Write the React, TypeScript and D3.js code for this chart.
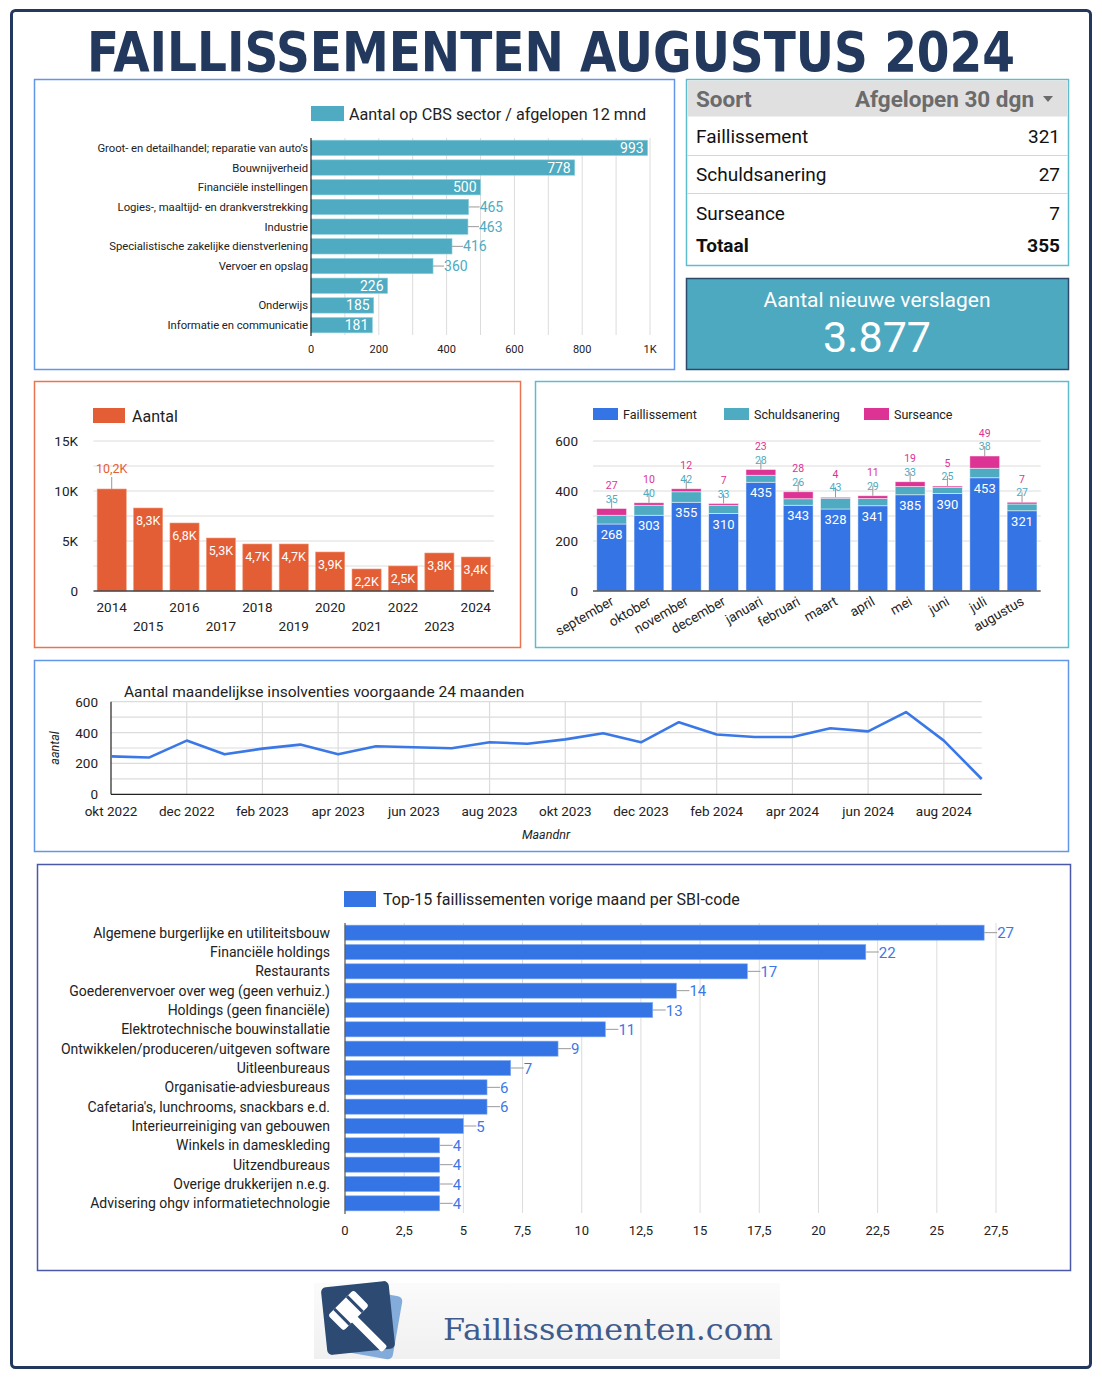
import React from 'react';
import * as d3 from 'd3';

const W = 1102;
const H = 1382;

// ---------- DATA ----------
const sectorNames = [
  'Groot- en detailhandel; reparatie van auto’s',
  'Bouwnijverheid',
  'Financiële instellingen',
  'Logies-, maaltijd- en drankverstrekking',
  'Industrie',
  'Specialistische zakelijke dienstverlening',
  'Vervoer en opslag',
  '',
  'Onderwijs',
  'Informatie en communicatie',
];
const sectorValues = [993, 778, 500, 465, 463, 416, 360, 226, 185, 181];
const sectorLabelInside = [true, true, true, false, false, false, false, true, true, true];
const sectorTicks = [0, 200, 400, 600, 800, 1000];

const tableLabels = ['Faillissement', 'Schuldsanering', 'Surseance'];
const tableValues = [321, 27, 7];
const kpiValue = 3877;

const years = ['2014', '2015', '2016', '2017', '2018', '2019', '2020', '2021', '2022', '2023', '2024'];
const yearValues = [10200, 8300, 6800, 5300, 4700, 4700, 3900, 2200, 2500, 3800, 3400];
const yearTicks = [0, 5000, 10000, 15000];

const months = ['september', 'oktober', 'november', 'december', 'januari', 'februari', 'maart', 'april', 'mei', 'juni', 'juli', 'augustus'];
const faillissement = [268, 303, 355, 310, 435, 343, 328, 341, 385, 390, 453, 321];
const schuldsanering = [35, 40, 42, 33, 28, 26, 43, 29, 33, 25, 38, 27];
const surseance = [27, 10, 12, 7, 23, 28, 4, 11, 19, 5, 49, 7];
const monthTicks = [0, 200, 400, 600];

const lineValues = [246, 238, 348, 259, 296, 322, 259, 311, 305, 298, 337, 328, 356, 395, 337, 467, 387, 371, 371, 428, 408, 533, 348, 99];
const lineTickLabels = ['okt 2022', 'dec 2022', 'feb 2023', 'apr 2023', 'jun 2023', 'aug 2023', 'okt 2023', 'dec 2023', 'feb 2024', 'apr 2024', 'jun 2024', 'aug 2024'];
const lineYTicks = [0, 200, 400, 600];

const sbiNames = [
  'Algemene burgerlijke en utiliteitsbouw',
  'Financiële holdings',
  'Restaurants',
  'Goederenvervoer over weg (geen verhuiz.)',
  'Holdings (geen financiële)',
  'Elektrotechnische bouwinstallatie',
  'Ontwikkelen/produceren/uitgeven software',
  'Uitleenbureaus',
  'Organisatie-adviesbureaus',
  "Cafetaria's, lunchrooms, snackbars e.d.",
  'Interieurreiniging van gebouwen',
  'Winkels in dameskleding',
  'Uitzendbureaus',
  'Overige drukkerijen n.e.g.',
  'Advisering ohgv informatietechnologie',
];
const sbiValues = [27, 22, 17, 14, 13, 11, 9, 7, 6, 6, 5, 4, 4, 4, 4];
const sbiTicks = [0, 2.5, 5, 7.5, 10, 12.5, 15, 17.5, 20, 22.5, 25, 27.5];

// ---------- STYLE ----------
const FONT = 'Roboto, "Noto Sans", sans-serif';
const TEAL = '#4eabc1';
const ORANGE = '#e35e35';
const BLUE = '#3474e4';
const PINK = '#dd3394';
const GRID = '#dcdcdc';
const NAVY = '#22385d';

const nlNum = (v: number) => String(v).replace('.', ',');
const fmtK = (v: number) => (v === 0 ? '0' : nlNum(+(v / 1000).toFixed(1)) + 'K');
const fmtThousands = d3.formatLocale({ decimal: ',', thousands: '.', grouping: [3], currency: ['€', ''] }).format(',d');

function SectorChart() {
  const x = d3.scaleLinear().domain([0, 1000]).range([311, 650]);
  const y = d3.scaleBand<number>().domain(d3.range(sectorValues.length)).range([138, 335]).paddingInner(0.22).paddingOuter(0.11);
  return (
    <g fontFamily={FONT}>
      <rect x={34.5} y={79.5} width={640} height={290} fill="#fff" stroke="#6396e8" strokeWidth={1.5} />
      <rect x={311} y={106} width={33} height={15} fill={TEAL} />
      <text x={349} y={120} fontSize={16.2} fill="#222">Aantal op CBS sector / afgelopen 12 mnd</text>
      {d3.range(100, 1001, 100).map((t) => (
        <line key={t} x1={x(t)} x2={x(t)} y1={138} y2={335} stroke={GRID} strokeWidth={1} />
      ))}
      {sectorValues.map((v, i) => (
        <rect key={i} x={x(0)} y={y(i)} width={x(v) - x(0)} height={y.bandwidth()} fill={TEAL} stroke="#8fd2df" strokeWidth={0.6} />
      ))}
      <line x1={x(0)} x2={x(0)} y1={138} y2={336} stroke="#222" strokeWidth={1.2} />
      {sectorNames.map((n, i) => (
        <text key={i} x={308} y={(y(i) as number) + y.bandwidth() / 2 + 4} textAnchor="end" fontSize={11.3} letterSpacing={-0.05} fill="#222">{n}</text>
      ))}
      {sectorValues.map((v, i) => {
        const cy = (y(i) as number) + y.bandwidth() / 2 + 5;
        return sectorLabelInside[i] ? (
          <text key={i} x={x(v) - 4} y={cy} textAnchor="end" fontSize={14} fill="#fff">{v}</text>
        ) : (
          <g key={i}>
            <line x1={x(v)} x2={x(v) + 11} y1={cy - 5} y2={cy - 5} stroke="#999" strokeWidth={1} />
            <text x={x(v) + 11} y={cy} fontSize={14} fill={TEAL}>{v}</text>
          </g>
        );
      })}
      {sectorTicks.map((t) => (
        <text key={t} x={x(t)} y={353} textAnchor="middle" fontSize={11} fill="#222">{t === 1000 ? '1K' : t}</text>
      ))}
    </g>
  );
}

function TablePanel() {
  const rowBase = [143, 181, 220];
  const total = d3.sum(tableValues);
  return (
    <g fontFamily={FONT}>
      <rect x={686.5} y={79.5} width={382} height={186} fill="#fff" stroke="#5fbccd" strokeWidth={1.5} />
      <rect x={687.5} y={80.5} width={380} height={36} fill="#e0e0e0" />
      <text x={696} y={107} fontSize={22.5} fontWeight="bold" fill="#6b6b6b">Soort</text>
      <text x={1034} y={107} fontSize={22.5} fontWeight="bold" fill="#6b6b6b" textAnchor="end">Afgelopen 30 dgn</text>
      <path d="M1043,96 L1053,96 L1048,102 Z" fill="#6b6b6b" />
      {tableLabels.map((l, i) => (
        <g key={l}>
          <text x={696} y={rowBase[i]} fontSize={19} fill="#111">{l}</text>
          <text x={1060} y={rowBase[i]} fontSize={19} fill="#111" textAnchor="end">{tableValues[i]}</text>
          {i < 2 && <line x1={687} x2={1068} y1={rowBase[i] + 12.5} y2={rowBase[i] + 12.5} stroke="#d6d6d6" strokeWidth={1.2} />}
        </g>
      ))}
      <text x={696} y={252} fontSize={19} fontWeight="bold" fill="#111">Totaal</text>
      <text x={1060} y={252} fontSize={19} fontWeight="bold" fill="#111" textAnchor="end">{total}</text>

      <rect x={686.5} y={278.5} width={382} height={91} fill="#4da9c0" stroke="#2c4a6b" strokeWidth={1.5} />
      <text x={877} y={307} fontSize={21} fill="#fff" textAnchor="middle">Aantal nieuwe verslagen</text>
      <text x={877} y={352} fontSize={43} fill="#fff" textAnchor="middle">{fmtThousands(kpiValue)}</text>
    </g>
  );
}

function YearChart() {
  const x = d3.scaleBand<string>().domain(years).range([93.5, 494]).paddingInner(0.2).paddingOuter(0.1);
  const y = d3.scaleLinear().domain([0, 15000]).range([591, 441]);
  return (
    <g fontFamily={FONT}>
      <rect x={34.5} y={381.5} width={486} height={266} fill="#fff" stroke="#ea7450" strokeWidth={1.5} />
      <rect x={93} y={408} width={32} height={15} fill={ORANGE} />
      <text x={132} y={422} fontSize={16} fill="#222">Aantal</text>
      {d3.range(2500, 15001, 2500).map((t) => (
        <line key={t} x1={93.5} x2={494} y1={y(t)} y2={y(t)} stroke={GRID} strokeWidth={1} />
      ))}
      {yearTicks.map((t) => (
        <text key={t} x={78} y={y(t) + 5} textAnchor="end" fontSize={13.5} fill="#222">{fmtK(t)}</text>
      ))}
      {yearValues.map((v, i) => (
        <rect key={i} x={x(years[i])} y={y(v)} width={x.bandwidth()} height={y(0) - y(v)} fill={ORANGE} stroke="#f19a7d" strokeWidth={0.6} />
      ))}
      <line x1={93.5} x2={494} y1={y(0)} y2={y(0)} stroke="#444" strokeWidth={1.5} />
      {yearValues.map((v, i) => {
        const cx = (x(years[i]) as number) + x.bandwidth() / 2;
        return i === 0 ? (
          <g key={i}>
            <line x1={cx} x2={cx} y1={y(v)} y2={y(v) - 12} stroke="#999" strokeWidth={1} />
            <text x={cx} y={y(v) - 16} textAnchor="middle" fontSize={12.5} fill={ORANGE}>{fmtK(v)}</text>
          </g>
        ) : (
          <text key={i} x={cx} y={y(v) + 17} textAnchor="middle" fontSize={12.5} fill="#fff">{fmtK(v)}</text>
        );
      })}
      {years.map((yr, i) => (
        <text key={yr} x={(x(yr) as number) + x.bandwidth() / 2} y={i % 2 === 0 ? 612 : 631} textAnchor="middle" fontSize={13.5} fill="#222">{yr}</text>
      ))}
    </g>
  );
}

function MonthChart() {
  const x = d3.scaleBand<string>().domain(months).range([593, 1040.7]).paddingInner(0.2).paddingOuter(0.1);
  const y = d3.scaleLinear().domain([0, 600]).range([591, 441]);
  const rows = months.map((m, i) => ({ m, f: faillissement[i], s: schuldsanering[i], u: surseance[i] }));
  const stack = d3.stack<any>().keys(['f', 's', 'u'])(rows);
  const colors = [BLUE, TEAL, PINK];
  return (
    <g fontFamily={FONT}>
      <rect x={535.5} y={381.5} width={533} height={266} fill="#fff" stroke="#5fbccd" strokeWidth={1.5} />
      {[['Faillissement', BLUE, 593], ['Schuldsanering', TEAL, 724], ['Surseance', PINK, 864]].map(([t, c, lx]) => (
        <g key={t as string}>
          <rect x={lx as number} y={408} width={25} height={12} fill={c as string} />
          <text x={(lx as number) + 30} y={419} fontSize={12.5} fill="#222">{t}</text>
        </g>
      ))}
      {d3.range(100, 601, 100).map((t) => (
        <line key={t} x1={593} x2={1040.7} y1={y(t)} y2={y(t)} stroke={GRID} strokeWidth={1} />
      ))}
      {monthTicks.map((t) => (
        <text key={t} x={578} y={y(t) + 5} textAnchor="end" fontSize={13.5} fill="#222">{t}</text>
      ))}
      {stack.map((layer, li) =>
        layer.map((d, i) => (
          <rect key={li + '-' + i} x={x(months[i])} y={y(d[1])} width={x.bandwidth()} height={y(d[0]) - y(d[1])} fill={colors[li]} stroke="#ffffff" strokeOpacity={0.6} strokeWidth={0.8} />
        ))
      )}
      <line x1={593} x2={1040.7} y1={y(0)} y2={y(0)} stroke="#555" strokeWidth={1.5} />
      {rows.map((r, i) => {
        const cx = (x(r.m) as number) + x.bandwidth() / 2;
        const top = y(r.f + r.s + r.u);
        return (
          <g key={r.m}>
            <text x={cx} y={y(r.f) + 15} textAnchor="middle" fontSize={13} fill="#fff">{r.f}</text>
            <line x1={cx} x2={cx} y1={top} y2={top - 10} stroke="#999" strokeWidth={1} />
            <text x={cx} y={top - 6} textAnchor="middle" fontSize={10.5} fill={TEAL}>{r.s}</text>
            <text x={cx} y={top - 19.5} textAnchor="middle" fontSize={10.5} fill={PINK}>{r.u}</text>
          </g>
        );
      })}
      {months.map((m) => (
        <text key={m} transform={`translate(${(x(m) as number) + x.bandwidth() / 2 + 3},604) rotate(-30)`} textAnchor="end" fontSize={13.5} fill="#222">{m}</text>
      ))}
    </g>
  );
}

function LineChart() {
  const x = d3.scaleLinear().domain([0, lineValues.length - 1]).range([111, 981.7]);
  const y = d3.scaleLinear().domain([0, 600]).range([794.3, 701.7]);
  const line = d3.line<number>().x((_, i) => x(i)).y((d) => y(d));
  return (
    <g fontFamily={FONT}>
      <rect x={34.5} y={660.5} width={1034} height={191} fill="#fff" stroke="#6396e8" strokeWidth={1.5} />
      {d3.range(100, 601, 100).map((t) => (
        <line key={t} x1={111} x2={981.7} y1={y(t)} y2={y(t)} stroke={GRID} strokeWidth={1.2} />
      ))}
      {lineTickLabels.map((l, k) => (
        k > 0 ? <line key={l} x1={x(k * 2)} x2={x(k * 2)} y1={701.7} y2={794.3} stroke={GRID} strokeWidth={1.2} /> : null
      ))}
      <line x1={111} x2={111} y1={701.7} y2={794.3} stroke="#222" strokeWidth={1.2} />
      <line x1={111} x2={981.7} y1={794.3} y2={794.3} stroke="#222" strokeWidth={1.2} />
      <path d={line(lineValues) as string} fill="none" stroke="#3b78e7" strokeWidth={2.6} strokeLinejoin="round" />
      {lineYTicks.map((t) => (
        <text key={t} x={98} y={y(t) + 5} textAnchor="end" fontSize={13.5} fill="#222">{t}</text>
      ))}
      {lineTickLabels.map((l, k) => (
        <text key={l} x={x(k * 2)} y={816} textAnchor="middle" fontSize={13.5} fill="#222">{l}</text>
      ))}
      <text x={124} y={697} fontSize={15.5} fill="#222">Aantal maandelijkse insolventies voorgaande 24 maanden</text>
      <text transform="translate(59,748) rotate(-90)" textAnchor="middle" fontSize={12.5} fontStyle="italic" fill="#222">aantal</text>
      <text x={546} y={839} textAnchor="middle" fontSize={12.5} fontStyle="italic" fill="#222">Maandnr</text>
    </g>
  );
}

function SbiChart() {
  const x = d3.scaleLinear().domain([0, 27.5]).range([345, 996]);
  const y = d3.scaleBand<number>().domain(d3.range(sbiValues.length)).range([923, 1213]).paddingInner(0.22).paddingOuter(0.11);
  return (
    <g fontFamily={FONT}>
      <rect x={37.5} y={864.5} width={1033} height={406} fill="#fff" stroke="#4b58aa" strokeWidth={1.5} />
      <rect x={344} y={891} width={32} height={16} fill={BLUE} />
      <text x={383} y={905} fontSize={16} fill="#222">Top-15 faillissementen vorige maand per SBI-code</text>
      {sbiTicks.slice(1).map((t) => (
        <line key={t} x1={x(t)} x2={x(t)} y1={923} y2={1213} stroke={GRID} strokeWidth={1} />
      ))}
      {sbiValues.map((v, i) => (
        <rect key={i} x={x(0)} y={y(i)} width={x(v) - x(0)} height={y.bandwidth()} fill={BLUE} stroke="#86aef0" strokeWidth={0.6} />
      ))}
      <line x1={x(0)} x2={x(0)} y1={923} y2={1214} stroke="#555" strokeWidth={1.2} />
      {sbiNames.map((n, i) => (
        <text key={i} x={330} y={(y(i) as number) + y.bandwidth() / 2 + 5} textAnchor="end" fontSize={14} fill="#222">{n}</text>
      ))}
      {sbiValues.map((v, i) => {
        const cy = (y(i) as number) + y.bandwidth() / 2;
        return (
          <g key={i}>
            <line x1={x(v)} x2={x(v) + 13} y1={cy} y2={cy} stroke="#999" strokeWidth={1} />
            <text x={x(v) + 13} y={cy + 5.5} fontSize={15} fill="#3b78e7">{v}</text>
          </g>
        );
      })}
      {sbiTicks.map((t) => (
        <text key={t} x={x(t)} y={1235} textAnchor="middle" fontSize={13} fill="#222">{nlNum(t)}</text>
      ))}
    </g>
  );
}

function Logo() {
  return (
    <g>
      <defs>
        <linearGradient id="logobg" x1="0" y1="0" x2="0" y2="1">
          <stop offset="0" stopColor="#fbfbfb" />
          <stop offset="1" stopColor="#f0f0f0" />
        </linearGradient>
      </defs>
      <rect x={314} y={1283} width={466} height={76} fill="url(#logobg)" />
      <rect x={-32} y={-32} width={64} height={64} rx={5} fill="#6f9fd6" opacity={0.85} transform="translate(366,1323) rotate(10)" />
      <rect x={-34} y={-34} width={68} height={68} rx={5} fill="#2d4a73" transform="translate(358,1318) rotate(-6)" />
      <g transform="translate(352,1314) rotate(45)">
        <rect x={-8} y={-2} width={56} height={8} rx={2} fill="#fff" />
        <rect x={-16} y={-18} width={22} height={36} rx={3} fill="#fff" />
        <line x1={-16} x2={6} y1={-9} y2={-9} stroke="#2d4a73" strokeWidth={3} />
        <line x1={-16} x2={6} y1={9} y2={9} stroke="#2d4a73" strokeWidth={3} />
      </g>
      <text x={443} y={1340} fontFamily='"DejaVu Serif", serif' fontSize={29} fill="#3e5b8d" textLength={330} lengthAdjust="spacingAndGlyphs">Faillissementen.com</text>
    </g>
  );
}

export default function App() {
  return (
    <svg width={W} height={H} viewBox={`0 0 ${W} ${H}`} style={{ position: 'absolute', left: 0, top: 0, background: '#fff' }}>
      <rect x={0} y={0} width={W} height={H} fill="#fff" />
      <rect x={11.5} y={10.5} width={1079} height={1357} rx={4} fill="#fff" stroke={NAVY} strokeWidth={3} />
      <text x={551} y={71} textAnchor="middle" fontFamily='"Liberation Sans Narrow", "Arial Narrow", "DejaVu Sans Condensed", sans-serif' fontWeight="bold" fontSize={56} fill={NAVY} textLength={928} lengthAdjust="spacingAndGlyphs">FAILLISSEMENTEN AUGUSTUS 2024</text>
      <SectorChart />
      <TablePanel />
      <YearChart />
      <MonthChart />
      <LineChart />
      <SbiChart />
      <Logo />
    </svg>
  );
}
